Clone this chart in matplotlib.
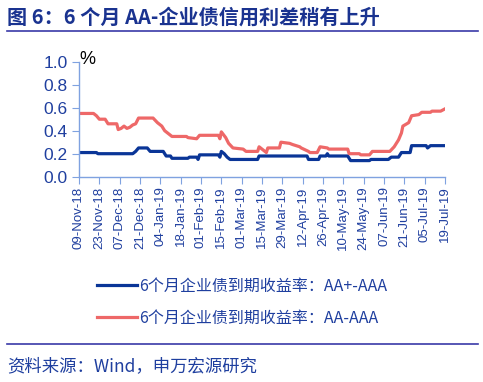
import matplotlib
matplotlib.use("Agg")
import matplotlib.pyplot as plt
import pandas as pd

plt.rcParams['font.family'] = ['Noto Sans CJK SC', 'DejaVu Sans']

# 数据
red_dates = ['2018-11-09', '2018-11-19', '2018-11-21', '2018-11-23', '2018-11-27', '2018-11-29',
             '2018-12-05', '2018-12-06', '2018-12-08', '2018-12-10', '2018-12-12', '2018-12-14',
             '2018-12-16', '2018-12-18', '2018-12-20', '2018-12-30', '2019-01-02', '2019-01-05',
             '2019-01-07', '2019-01-10', '2019-01-12', '2019-01-22', '2019-01-23', '2019-01-29',
             '2019-01-31', '2019-02-13', '2019-02-14', '2019-02-15', '2019-02-18', '2019-02-20',
             '2019-02-23', '2019-03-02', '2019-03-04', '2019-03-12', '2019-03-13', '2019-03-16',
             '2019-03-18', '2019-03-19', '2019-03-27', '2019-03-28', '2019-04-03', '2019-04-05',
             '2019-04-10', '2019-04-11', '2019-04-16', '2019-04-17', '2019-04-22', '2019-04-24',
             '2019-04-29', '2019-04-30', '2019-05-13', '2019-05-14', '2019-05-21', '2019-05-22',
             '2019-05-28', '2019-05-30', '2019-06-11', '2019-06-14', '2019-06-17', '2019-06-19',
             '2019-06-20', '2019-06-24', '2019-06-26', '2019-07-01', '2019-07-03', '2019-07-09',
             '2019-07-10', '2019-07-16', '2019-07-19']
red_vals = [0.55, 0.55, 0.53, 0.50, 0.50, 0.46,
            0.46, 0.41, 0.42, 0.44, 0.42, 0.43,
            0.45, 0.46, 0.51, 0.51, 0.47, 0.44,
            0.40, 0.37, 0.35, 0.35, 0.34, 0.33,
            0.36, 0.36, 0.33, 0.39, 0.34, 0.29,
            0.25, 0.24, 0.22, 0.22, 0.26, 0.23,
            0.21, 0.25, 0.25, 0.30, 0.29, 0.28,
            0.26, 0.25, 0.22, 0.21, 0.21, 0.26,
            0.25, 0.24, 0.24, 0.20, 0.20, 0.19,
            0.19, 0.22, 0.22, 0.26, 0.32, 0.38,
            0.44, 0.47, 0.53, 0.54, 0.56, 0.56,
            0.57, 0.57, 0.59]

blue_dates = ['2018-11-09', '2018-11-21', '2018-11-22', '2018-12-16', '2018-12-18', '2018-12-20',
              '2018-12-26', '2018-12-28', '2019-01-06', '2019-01-08', '2019-01-11', '2019-01-12',
              '2019-01-23', '2019-01-24', '2019-01-29', '2019-01-30', '2019-01-31', '2019-02-13',
              '2019-02-14', '2019-02-15', '2019-02-17', '2019-02-19', '2019-02-21', '2019-03-12',
              '2019-03-13', '2019-04-15', '2019-04-16', '2019-04-23', '2019-04-24', '2019-04-28',
              '2019-04-29', '2019-04-30', '2019-05-13', '2019-05-15', '2019-05-28', '2019-05-29',
              '2019-06-10', '2019-06-12', '2019-06-17', '2019-06-19', '2019-06-25', '2019-06-26',
              '2019-07-06', '2019-07-07', '2019-07-09', '2019-07-19']
blue_vals = [0.21, 0.21, 0.20, 0.20, 0.22, 0.25,
             0.25, 0.22, 0.22, 0.18, 0.18, 0.16,
             0.16, 0.17, 0.17, 0.15, 0.19, 0.19,
             0.17, 0.22, 0.20, 0.17, 0.15, 0.15,
             0.18, 0.18, 0.15, 0.15, 0.18, 0.18,
             0.20, 0.18, 0.18, 0.14, 0.14, 0.15,
             0.15, 0.17, 0.17, 0.21, 0.21, 0.27,
             0.27, 0.25, 0.27, 0.27]

blue_label = '6个月企业债到期收益率：AA+-AAA'
red_label = '6个月企业债到期收益率：AA-AAA'
title = '图 6：6 个月 AA-企业债信用利差稍有上升'
source = '资料来源：Wind，申万宏源研究'

text_blue = '#1f3f9f'
axis_blue = '#7fa2e0'

fig = plt.figure(figsize=(4.83, 3.82), dpi=100)
ax = fig.add_axes([79/483, 1-176.7/382, 366/483, 115/382])

ax.plot(pd.to_datetime(blue_dates), blue_vals, color='#0a3597', lw=2.3, label=blue_label)
ax.plot(pd.to_datetime(red_dates), red_vals, color='#ee6868', lw=2.3, label=red_label)

ax.set_ylim(0, 1.0)
ax.set_yticks([0, 0.2, 0.4, 0.6, 0.8, 1.0])
ax.set_yticklabels(['0.0', '0.2', '0.4', '0.6', '0.8', '1.0'])
start = pd.Timestamp('2018-11-09')
end = pd.Timestamp('2019-07-19')
ax.set_xlim(start, end)
ticks = pd.date_range(start, end, freq='14D')
ax.set_xticks(ticks)
ax.set_xticklabels([t.strftime('%d-%b-%y') for t in ticks], rotation=90)

for s in ['top', 'right']:
    ax.spines[s].set_visible(False)
for s in ['left', 'bottom']:
    ax.spines[s].set_color(axis_blue)
    ax.spines[s].set_linewidth(1.0)
ax.tick_params(axis='y', colors=axis_blue, labelcolor=text_blue, labelsize=12.5, length=5, pad=3)
ax.tick_params(axis='x', colors=axis_blue, labelcolor=text_blue, labelsize=9.5, length=5, pad=2)
for lab in ax.get_yticklabels() + ax.get_xticklabels():
    lab.set_family(['Liberation Sans', 'DejaVu Sans'])

fig.text(79/483, 1-59/382, '%', fontsize=13, color='black', va='center', ha='left',
         family=['Liberation Sans', 'DejaVu Sans'])

# 标题
fig.text(7/483, 1-17/382, title, fontsize=14.5, fontweight='bold', color='#1a3390',
         va='center', ha='left')
fig.add_artist(plt.Line2D([7/483, 478/483], [1-30.5/382, 1-30.5/382], color='#3a3aa8', lw=1.2))

# 图例
leg = fig.legend(loc='center left', bbox_to_anchor=(97/483, 1-302.5/382), frameon=False,
                 fontsize=11.5, handlelength=2.5, handletextpad=0.15, labelspacing=0.95,
                 borderpad=0, borderaxespad=0, labelcolor=text_blue)

# 底部
fig.add_artist(plt.Line2D([7/483, 478/483], [1-344/382, 1-344/382], color='#3a3aa8', lw=1.2))
fig.text(7/483, 1-366/382, source, fontsize=12.5, color=text_blue, va='center', ha='left')

fig.savefig('out.png', dpi=100)
